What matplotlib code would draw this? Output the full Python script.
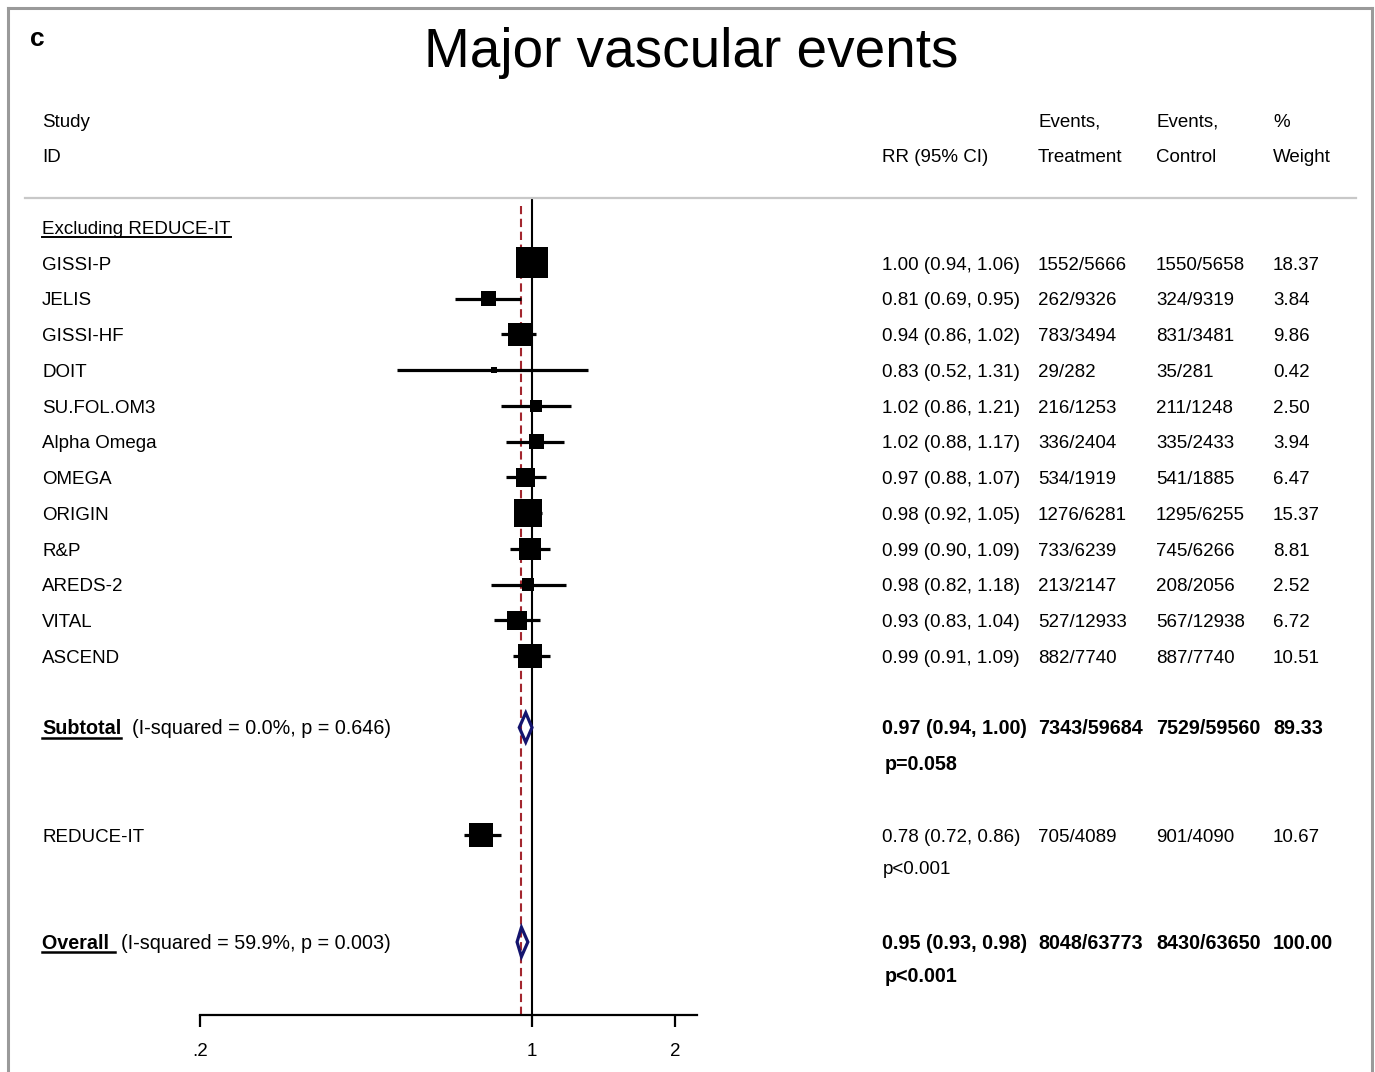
import numpy as np
import matplotlib
matplotlib.use('Agg')
import matplotlib.pyplot as plt
from matplotlib.transforms import blended_transform_factory
from matplotlib.patches import Polygon
from matplotlib.lines import Line2D

plt.rcParams['font.family'] = ['Liberation Sans', 'DejaVu Sans']

# ---------------- data ----------------
title = "Major vascular events"
panel = "c"
group_label = "Excluding REDUCE-IT"

studies = ["GISSI-P", "JELIS", "GISSI-HF", "DOIT", "SU.FOL.OM3", "Alpha Omega",
           "OMEGA", "ORIGIN", "R&P", "AREDS-2", "VITAL", "ASCEND"]
rr = [1.00, 0.81, 0.94, 0.83, 1.02, 1.02, 0.97, 0.98, 0.99, 0.98, 0.93, 0.99]
rr_lo = [0.94, 0.69, 0.86, 0.52, 0.86, 0.88, 0.88, 0.92, 0.90, 0.82, 0.83, 0.91]
rr_hi = [1.06, 0.95, 1.02, 1.31, 1.21, 1.17, 1.07, 1.05, 1.09, 1.18, 1.04, 1.09]
events_treat = ["1552/5666", "262/9326", "783/3494", "29/282", "216/1253", "336/2404",
                "534/1919", "1276/6281", "733/6239", "213/2147", "527/12933", "882/7740"]
events_ctrl = ["1550/5658", "324/9319", "831/3481", "35/281", "211/1248", "335/2433",
               "541/1885", "1295/6255", "745/6266", "208/2056", "567/12938", "887/7740"]
weights = [18.37, 3.84, 9.86, 0.42, 2.50, 3.94, 6.47, 15.37, 8.81, 2.52, 6.72, 10.51]

subtotal_rr, subtotal_lo, subtotal_hi = 0.97, 0.94, 1.00
subtotal_treat, subtotal_ctrl, subtotal_weight = "7343/59684", "7529/59560", 89.33
subtotal_het = "(I-squared = 0.0%, p = 0.646)"
subtotal_p = "p=0.058"

reduce_name = "REDUCE-IT"
reduce_rr, reduce_lo, reduce_hi = 0.78, 0.72, 0.86
reduce_treat, reduce_ctrl, reduce_weight = "705/4089", "901/4090", 10.67
reduce_p = "p<0.001"

overall_rr, overall_lo, overall_hi = 0.95, 0.93, 0.98
overall_treat, overall_ctrl, overall_weight = "8048/63773", "8430/63650", 100.00
overall_het = "(I-squared = 59.9%, p = 0.003)"
overall_p = "p<0.001"

xticks = [0.2, 1, 2]
xtick_labels = [".2", "1", "2"]

# ---------------- layout ----------------
W, H = 1375, 1072
DPI = 100
fig = plt.figure(figsize=(W / DPI, H / DPI), dpi=DPI)

row0_px, row_h = 227.0, 35.75          # pixel y of row 0 and row spacing
ax_left, ax_right = 200, 697
ax_top, ax_bot = 198, 1015
px_per_ln = 206.3

ax = fig.add_axes([ax_left / W, 1 - ax_bot / H, (ax_right - ax_left) / W, (ax_bot - ax_top) / H])
ax.set_xscale('log')
xmax = 0.2 * np.exp((ax_right - ax_left) / px_per_ln)
ax.set_xlim(0.2, xmax)
ax.set_ylim((ax_bot - row0_px) / row_h, (ax_top - row0_px) / row_h)
for s in ['top', 'left', 'right']:
    ax.spines[s].set_visible(False)
ax.spines['bottom'].set_linewidth(1.6)
ax.set_yticks([])
ax.set_xticks(xticks)
ax.set_xticklabels(xtick_labels)
ax.minorticks_off()
ax.tick_params(axis='x', direction='out', length=8.5, width=1.6, pad=11.5, labelsize=13.5)
ax.patch.set_alpha(0)

FS = 13.5
FSB = 14.2
bl = 0.19   # baseline offset (rows) to vertically centre caps on a row
tr = blended_transform_factory(fig.transFigure, ax.transData)

def fx(px):
    return px / W

def txt(px, row, s, bold=False, size=None, **kw):
    if size is None:
        size = FSB if bold else FS
    return ax.text(fx(px), row + bl, s, transform=tr, fontsize=size,
                   fontweight='bold' if bold else 'normal', va='baseline', ha='left',
                   clip_on=False, **kw)

# reference lines
ax.axvline(1, color='black', lw=1.5, zorder=1)
ax.plot([overall_rr, overall_rr], [ax.get_ylim()[0], -0.6], color='#A3262E', lw=1.5,
        ls=(0, (4, 2.2)), zorder=1.5)

# study rows
n = len(studies)
rows = np.arange(1, n + 1)
ax.hlines(rows, rr_lo, rr_hi, color='black', lw=2.3, zorder=2)
side_px = 6.9 * np.sqrt(np.array(weights)) + 1.5
ax.scatter(rr, rows, marker='s', s=(side_px * 72 / DPI) ** 2, color='black',
           edgecolors='none', zorder=3)

# REDUCE-IT
r_row = 17
ax.hlines([r_row], [reduce_lo], [reduce_hi], color='black', lw=2.3, zorder=2)
r_side = 6.9 * np.sqrt(reduce_weight) + 1.5
ax.scatter([reduce_rr], [r_row], marker='s', s=(r_side * 72 / DPI) ** 2, color='black',
           edgecolors='none', zorder=3)

# diamonds
def diamond(est, lo, hi, row, hh=0.41):
    poly = Polygon([(lo, row), (est, row - hh), (hi, row), (est, row + hh)], closed=True,
                   facecolor='none', edgecolor='#14146E', lw=2.3, zorder=4)
    ax.add_patch(poly)

s_row, o_row = 14, 20
diamond(subtotal_rr, subtotal_lo, subtotal_hi, s_row)
diamond(overall_rr, overall_lo, overall_hi, o_row)

# ---------------- text ----------------
fig.text(fx(30), 1 - 46 / H, panel, fontsize=19, fontweight='bold', ha='left', va='baseline')
fig.text(fx(691), 1 - 67 / H, title, fontsize=39.5, ha='center', va='baseline')

col_name, col_rr, col_t, col_c, col_w = 42, 882, 1038, 1156, 1273
txt(col_name, -3, "Study")
txt(col_name, -2, "ID")
txt(col_rr, -2, "RR (95% CI)")
txt(col_t, -3, "Events,")
txt(col_t, -2, "Treatment")
txt(col_c, -3, "Events,")
txt(col_c, -2, "Control")
txt(col_w, -3, "%")
txt(col_w, -2, "Weight")

fig.add_artist(Line2D([fx(25), fx(1356)], [1 - 198 / H, 1 - 198 / H], color='#C8C8C8', lw=1.6))

underline_items = []
t_grp = txt(col_name, 0, group_label)
underline_items.append((t_grp, 0))

def fmt(e, l, h):
    return f"{e:.2f} ({l:.2f}, {h:.2f})"

for i, r in enumerate(rows):
    txt(col_name, r, studies[i])
    txt(col_rr, r, fmt(rr[i], rr_lo[i], rr_hi[i]))
    txt(col_t, r, events_treat[i])
    txt(col_c, r, events_ctrl[i])
    txt(col_w, r, f"{weights[i]:.2f}")

t_sub = txt(col_name, s_row, "Subtotal", bold=True)
underline_items.append((t_sub, s_row))
txt(132, s_row, subtotal_het, size=FSB)
txt(col_rr, s_row, fmt(subtotal_rr, subtotal_lo, subtotal_hi), bold=True)
txt(col_t, s_row, subtotal_treat, bold=True)
txt(col_c, s_row, subtotal_ctrl, bold=True)
txt(col_w, s_row, f"{subtotal_weight:.2f}", bold=True)
txt(885, s_row + 1, subtotal_p, bold=True)

txt(col_name, r_row, reduce_name)
txt(col_rr, r_row, fmt(reduce_rr, reduce_lo, reduce_hi))
txt(col_t, r_row, reduce_treat)
txt(col_c, r_row, reduce_ctrl)
txt(col_w, r_row, f"{reduce_weight:.2f}")
txt(883, r_row + 0.92, reduce_p)

t_ov = txt(col_name, o_row, "Overall ", bold=True)
underline_items.append((t_ov, o_row))
txt(121, o_row, overall_het, size=FSB)
txt(col_rr, o_row, fmt(overall_rr, overall_lo, overall_hi), bold=True)
txt(col_t, o_row, overall_treat, bold=True)
txt(col_c, o_row, overall_ctrl, bold=True)
txt(col_w, o_row, f"{overall_weight:.2f}", bold=True)
txt(885, o_row + 0.92, overall_p, bold=True)

# frame
fig.add_artist(Line2D([fx(8), fx(8)], [1 - 8 / H, -0.05], color='#9A9A9A', lw=2.2))
fig.add_artist(Line2D([fx(8), fx(1372)], [1 - 8 / H, 1 - 8 / H], color='#9A9A9A', lw=2.2))
fig.add_artist(Line2D([fx(1372), fx(1372)], [1 - 8 / H, -0.05], color='#9A9A9A', lw=2.2))

# underlines
fig.canvas.draw()
renderer = fig.canvas.get_renderer()
for t, r in underline_items:
    bb = t.get_window_extent(renderer)
    base_y = ax.transData.transform((1, r + bl))[1]
    yline = (base_y - 3.5) / H
    fig.add_artist(Line2D([bb.x0 / W, bb.x1 / W], [yline, yline], color='black',
                          lw=1.4 if t is t_grp else 1.8))

fig.savefig('out.png', dpi=DPI)
